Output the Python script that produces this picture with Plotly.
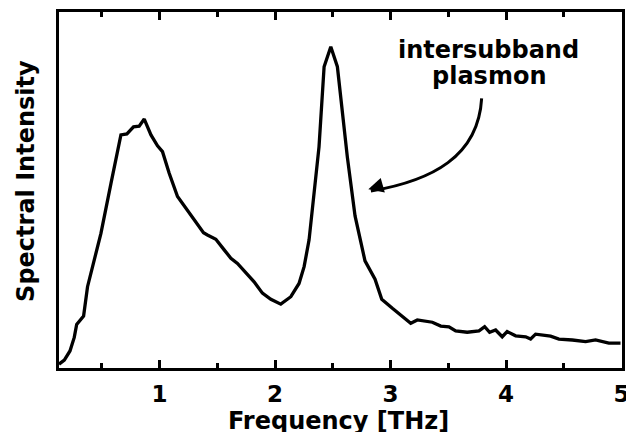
import plotly.graph_objects as go

# Frequency axis (THz) and measured spectral intensity (arb. units, peak = 1)
freq_thz = [
    0.130, 0.176, 0.225, 0.262, 0.283, 0.305, 0.343, 0.377, 0.420, 0.493,
    0.580, 0.666, 0.718, 0.775, 0.824, 0.868, 0.926, 0.983, 1.026, 1.084,
    1.156, 1.272, 1.381, 1.415, 1.488, 1.560, 1.618, 1.675, 1.747, 1.819,
    1.891, 1.964, 2.050, 2.137, 2.208, 2.252, 2.295, 2.338, 2.381, 2.425,
    2.483, 2.540, 2.626, 2.693, 2.736, 2.779, 2.866, 2.924, 3.016, 3.097,
    3.131, 3.175, 3.232, 3.362, 3.435, 3.506, 3.564, 3.664, 3.766, 3.815,
    3.858, 3.910, 3.967, 4.010, 4.083, 4.170, 4.213, 4.256, 4.386, 4.458,
    4.574, 4.689, 4.775, 4.890, 4.991,
]
intensity = [
    0.017, 0.030, 0.058, 0.100, 0.140, 0.149, 0.166, 0.257, 0.319, 0.422,
    0.577, 0.727, 0.730, 0.752, 0.754, 0.776, 0.727, 0.693, 0.675, 0.608,
    0.536, 0.479, 0.424, 0.417, 0.404, 0.371, 0.345, 0.329, 0.300, 0.272,
    0.237, 0.218, 0.203, 0.226, 0.267, 0.319, 0.402, 0.546, 0.690, 0.938,
    1.000, 0.938, 0.659, 0.476, 0.404, 0.337, 0.280, 0.218, 0.190, 0.166,
    0.159, 0.144, 0.154, 0.147, 0.135, 0.133, 0.120, 0.116, 0.120, 0.133,
    0.116, 0.123, 0.102, 0.118, 0.105, 0.102, 0.095, 0.110, 0.104, 0.095,
    0.092, 0.087, 0.092, 0.082, 0.082,
]

x_tick_vals = [1, 2, 3, 4, 5]
x_tick_text = ["1", "2", "3", "4", "5"]

FONT = "DejaVu Sans"

fig = go.Figure()
fig.add_trace(go.Scatter(
    x=freq_thz, y=intensity, mode="lines",
    line=dict(color="black", width=3.3),
    showlegend=False, hoverinfo="skip",
))

# Curved arrow pointing at the plasmon peak
fig.add_shape(
    type="path",
    path="M 3.789,0.840 C 3.760,0.660 3.360,0.585 2.830,0.553",
    xref="x", yref="y",
    line=dict(color="black", width=3),
)
fig.add_annotation(
    x=2.808, y=0.5585, xref="x", yref="y",
    ax=14, ay=-4, axref="pixel", ayref="pixel",
    text="", showarrow=True, arrowhead=2, arrowsize=1.0,
    arrowwidth=3, arrowcolor="black", standoff=0,
)

# Peak label
fig.add_annotation(
    x=3.852, y=0.991, xref="x", yref="y",
    text="<b>intersubband</b>", showarrow=False,
    font=dict(family=FONT, size=24, color="black"),
    xanchor="center", yanchor="middle",
)
fig.add_annotation(
    x=3.852, y=0.910, xref="x", yref="y",
    text="<b>plasmon</b>", showarrow=False,
    font=dict(family=FONT, size=24, color="black"),
    xanchor="center", yanchor="middle",
)

# Axis titles
fig.add_annotation(
    x=0.4956, y=-0.148, xref="paper", yref="paper",
    text="<b>Frequency [THz]</b>", showarrow=False,
    font=dict(family=FONT, size=24, color="black"),
    xanchor="center", yanchor="middle",
)
fig.add_annotation(
    x=-0.0590, y=0.525, xref="paper", yref="paper",
    text="<b>Spectral Intensity</b>", showarrow=False, textangle=-90,
    font=dict(family=FONT, size=24, color="black"),
    xanchor="center", yanchor="middle",
)

fig.update_xaxes(
    range=[0.13, 5.004],
    tickvals=x_tick_vals, ticktext=x_tick_text,
    ticks="inside", ticklen=8, tickwidth=2.5, tickcolor="black",
    minor=dict(dtick=0.5, tick0=0, ticks="inside", ticklen=5,
               tickwidth=2.5, tickcolor="black"),
    showline=True, linewidth=3, linecolor="black", mirror="ticks",
    showgrid=False, zeroline=False,
    tickfont=dict(family=FONT, size=23, color="black", weight="bold"),
    ticklabelstandoff=3,
    ticklabeloverflow="allow",
)
fig.update_yaxes(
    range=[0.0053, 1.1074],
    showticklabels=False, ticks="",
    showline=True, linewidth=3, linecolor="black", mirror=True,
    showgrid=False, zeroline=False,
)

fig.update_layout(
    width=626, height=432,
    margin=dict(l=59, r=4, t=12, b=64, autoexpand=False),
    paper_bgcolor="white", plot_bgcolor="white",
)

fig.write_html("out.html")
